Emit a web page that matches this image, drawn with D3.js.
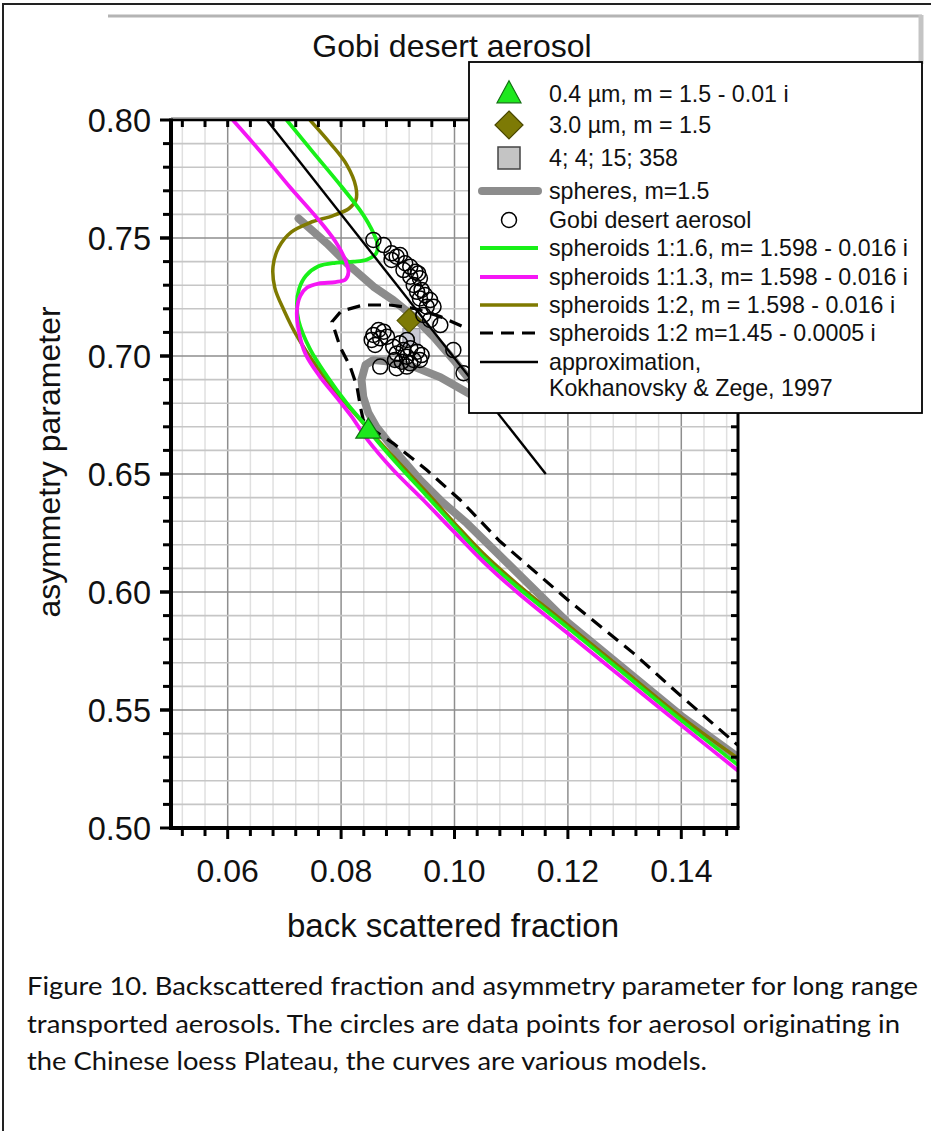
<!DOCTYPE html>
<html><head><meta charset="utf-8">
<script src="https://cdn.jsdelivr.net/npm/d3@7"></script>
<style>body{margin:0;background:#fff}svg{display:block}</style>
</head><body>
<svg id="c" width="931" height="1131"></svg>
<script>
// ---------------- data ----------------
const xTickValues = [0.06, 0.08, 0.10, 0.12, 0.14];
const yTickValues = [0.50, 0.55, 0.60, 0.65, 0.70, 0.75, 0.80];

// approximation, Kokhanovsky & Zege 1997
const approximation = [[0.0669, 0.800], [0.1161, 0.650]];

// spheres, m=1.5
const spheres = [[0.0725,0.7583],[0.0775,0.7477],[0.0810,0.7393],[0.0857,0.7294],[0.0892,0.7237],[0.0928,0.7167],[0.0963,0.7082],[0.0998,0.6985],[0.1025,0.6905],[0.1070,0.6800],[0.1030,0.6835],[0.0975,0.6910],[0.0928,0.6955],[0.0880,0.6978],[0.0857,0.6983],[0.0843,0.6962],[0.0836,0.6900],[0.0839,0.6828],[0.0848,0.6760],[0.0862,0.6700],[0.0904,0.6573],[0.0939,0.6475],[0.0980,0.6378],[0.1022,0.6291],[0.1200,0.5870],[0.1400,0.5475],[0.1500,0.5300]];

// spheroids 1:1.6, m = 1.598 - 0.016 i
const spheroid16 = [[0.0704,0.800],[0.0750,0.7865],[0.0801,0.7717],[0.0833,0.7619],[0.0852,0.7545],[0.0864,0.7475],[0.0862,0.7435],[0.0845,0.7408],[0.0822,0.7400],[0.0790,0.7395],[0.0760,0.7380],[0.0738,0.7340],[0.0726,0.7285],[0.0722,0.7220],[0.0725,0.7150],[0.0745,0.7030],[0.0775,0.6915],[0.0810,0.6800],[0.0839,0.6718],[0.0857,0.6660],[0.0900,0.6540],[0.0950,0.6410],[0.1000,0.6278],[0.1050,0.6150],[0.1110,0.6022],[0.1200,0.5848],[0.1287,0.5678],[0.1400,0.5456],[0.1500,0.5267]];

// spheroids 1:1.3, m = 1.598 - 0.016 i
const spheroid13 = [[0.0609,0.800],[0.0660,0.7860],[0.0710,0.7715],[0.0760,0.7578],[0.0790,0.7485],[0.0806,0.7415],[0.0813,0.7355],[0.0808,0.7325],[0.0790,0.7313],[0.0760,0.7307],[0.0740,0.7290],[0.0728,0.7255],[0.0722,0.7190],[0.0725,0.7110],[0.0737,0.7010],[0.0762,0.6915],[0.0792,0.6825],[0.0818,0.6745],[0.0845,0.6650],[0.0892,0.6517],[0.0945,0.6390],[0.0998,0.6258],[0.1050,0.6130],[0.1110,0.6000],[0.1198,0.5828],[0.1287,0.5655],[0.1400,0.5435],[0.1500,0.5243]];

// spheroids 1:2, m = 1.598 - 0.016 i
const spheroid2 = [[0.0745,0.800],[0.0781,0.7901],[0.0810,0.7810],[0.0826,0.7717],[0.0826,0.7660],[0.0814,0.7625],[0.0786,0.7595],[0.0745,0.7565],[0.0712,0.7525],[0.0690,0.7460],[0.0680,0.7380],[0.0683,0.7290],[0.0700,0.7190],[0.0722,0.7085],[0.0757,0.6955],[0.0798,0.6828],[0.0834,0.6729],[0.0857,0.6665],[0.0900,0.6553],[0.0950,0.6425],[0.1000,0.6292],[0.1050,0.6165],[0.1110,0.6035],[0.1200,0.5860],[0.1300,0.5665],[0.1400,0.5470],[0.1500,0.5295]];

// spheroids 1:2, m = 1.45 - 0.0005 i
const spheroid2b = [[0.1045,0.7085],[0.1022,0.7117],[0.0975,0.7167],[0.0928,0.7202],[0.0886,0.7216],[0.0839,0.7216],[0.0800,0.7190],[0.0784,0.7145],[0.0798,0.7040],[0.0816,0.6955],[0.0828,0.6870],[0.0834,0.6785],[0.0839,0.6729],[0.0857,0.6686],[0.0892,0.6630],[0.0951,0.6517],[0.1010,0.6390],[0.1080,0.6215],[0.1200,0.5966],[0.1316,0.5740],[0.1401,0.5556],[0.1500,0.5350]];

// Gobi desert aerosol (measured)
const gobi = [[0.0857,0.7492],[0.0875,0.7470],[0.0889,0.7435],[0.0898,0.7421],[0.0904,0.7428],[0.0889,0.7407],[0.0913,0.7393],[0.0922,0.7378],[0.0910,0.7364],[0.0931,0.7357],[0.0936,0.7350],[0.0922,0.7336],[0.0939,0.7329],[0.0928,0.7301],[0.0934,0.7272],[0.0942,0.7280],[0.0948,0.7258],[0.0939,0.7244],[0.0957,0.7237],[0.0951,0.7209],[0.0963,0.7209],[0.0945,0.7174],[0.0975,0.7131],[0.0957,0.7153],[0.0998,0.7025],[0.1016,0.6927],
[0.0857,0.7089],[0.0866,0.7110],[0.0875,0.7103],[0.0854,0.7068],[0.0869,0.7075],[0.0881,0.7082],[0.0860,0.7047],[0.0892,0.7039],[0.0904,0.7054],[0.0916,0.7068],[0.0910,0.7025],[0.0922,0.7033],[0.0934,0.7018],[0.0942,0.7004],[0.0898,0.7011],[0.0916,0.6997],[0.0928,0.6983],[0.0907,0.6976],[0.0895,0.6983],[0.0939,0.6983],[0.0869,0.6955],[0.0916,0.6955],[0.0898,0.6948],[0.0922,0.6969]];

const small04 = [0.0848, 0.6686];   // 0.4 um, m = 1.5 - 0.01 i
const large30 = [0.0920, 0.7150];   // 3.0 um, m = 1.5
const dist4 = [0.0924, 0.7080];     // 4; 4; 15; 358

const legendLabels = ["0.4 µm, m = 1.5 - 0.01 i", "3.0 µm, m = 1.5", "4; 4; 15; 358", "spheres, m=1.5", "Gobi desert aerosol", "spheroids 1:1.6, m= 1.598 - 0.016 i", "spheroids 1:1.3, m= 1.598 - 0.016 i", "spheroids 1:2, m = 1.598 - 0.016 i", "spheroids 1:2 m=1.45 - 0.0005 i", "approximation,", "Kokhanovsky & Zege, 1997"];

const captionLines = ["Figure 10. Backscattered fraction and asymmetry parameter for long range", "transported aerosols. The circles are data points for aerosol originating in", "the Chinese loess Plateau, the curves are various models."];

// ---------------- drawing ----------------
const svg = d3.select("#c");
const FONT = "'Liberation Sans', Arial, sans-serif";
svg.append("rect").attr("width", 931).attr("height", 1131).attr("fill", "#fff");

// page decorations (scan frame)
svg.append("line").attr("x1", 3).attr("x2", 3).attr("y1", 3).attr("y2", 1131).attr("stroke", "#222").attr("stroke-width", 2);
svg.append("line").attr("x1", 3).attr("x2", 931).attr("y1", 4).attr("y2", 4).attr("stroke", "#222").attr("stroke-width", 2);
svg.append("line").attr("x1", 108).attr("x2", 922).attr("y1", 16).attr("y2", 16).attr("stroke", "#b4b4b4").attr("stroke-width", 3);
svg.append("line").attr("x1", 921).attr("x2", 921).attr("y1", 15).attr("y2", 64).attr("stroke", "#c4c4c4").attr("stroke-width", 5);

const x = d3.scaleLinear().domain([0.05, 0.15]).range([171, 738]);
const y = d3.scaleLinear().domain([0.50, 0.80]).range([828, 120]);
const [X0, X1] = x.range(), [Y0, Y1] = [y(0.80), y(0.50)];

// grid
const xMinor = d3.range(-2, 23).map(k => +(0.06 + k * 0.004).toFixed(4));
const yMinor = d3.range(1, 30).map(k => +(0.50 + k * 0.01).toFixed(3));
const isMajX = d => xTickValues.some(t => Math.abs(t - d) < 1e-6);
const isMajY = d => yTickValues.some(t => Math.abs(t - d) < 1e-6);
const g = svg.append("g");
g.selectAll(".vx").data(xMinor).join("line")
  .attr("x1", d => x(d)).attr("x2", d => x(d)).attr("y1", Y0).attr("y2", Y1)
  .attr("stroke", d => isMajX(d) ? "#8e8e8e" : "#e0e0e0")
  .attr("stroke-width", 1.5);
g.selectAll(".hy").data(yMinor).join("line")
  .attr("x1", X0).attr("x2", X1).attr("y1", d => y(d)).attr("y2", d => y(d))
  .attr("stroke", d => isMajY(d) ? "#8e8e8e" : "#c6c6c6")
  .attr("stroke-width", 1.6);

// clip
svg.append("clipPath").attr("id", "plot").append("rect")
  .attr("x", X0).attr("y", Y0).attr("width", X1 - X0).attr("height", Y1 - Y0);
const plot = svg.append("g").attr("clip-path", "url(#plot)");

const lineLin = d3.line().x(d => x(d[0])).y(d => y(d[1]));
const lineSmooth = d3.line().x(d => x(d[0])).y(d => y(d[1])).curve(d3.curveCatmullRom.alpha(0.5));

plot.append("path").datum(spheres).attr("d", lineLin).attr("fill", "none")
  .attr("stroke", "#8c8c8c").attr("stroke-width", 8).attr("stroke-linejoin", "round").attr("stroke-linecap", "round");
plot.append("path").datum(spheroid2b).attr("d", lineLin).attr("fill", "none")
  .attr("stroke", "#000").attr("stroke-width", 3.2).attr("stroke-dasharray", "13,8");
plot.append("path").datum(spheroid2).attr("d", lineSmooth).attr("fill", "none")
  .attr("stroke", "#7f7a00").attr("stroke-width", 3.5);
plot.append("path").datum(spheroid16).attr("d", lineSmooth).attr("fill", "none")
  .attr("stroke", "#18f018").attr("stroke-width", 3.8);
plot.append("path").datum(spheroid13).attr("d", lineSmooth).attr("fill", "none")
  .attr("stroke", "#f516f5").attr("stroke-width", 3.8);
plot.append("path").datum(approximation).attr("d", lineLin).attr("fill", "none")
  .attr("stroke", "#000").attr("stroke-width", 2.4);

// markers
function sq(cx, cy, s) { return `M${cx - s},${cy - s}H${cx + s}V${cy + s}H${cx - s}Z`; }
function dia(cx, cy, s) { return `M${cx},${cy - s}L${cx + s},${cy}L${cx},${cy + s}L${cx - s},${cy}Z`; }
function tri(cx, cy, w, h) { return `M${cx},${cy - h * 0.6}L${cx + w / 2},${cy + h * 0.4}L${cx - w / 2},${cy + h * 0.4}Z`; }

plot.append("path").attr("d", sq(x(dist4[0]), y(dist4[1]), 8.5)).attr("fill", "#c8c8d4").attr("stroke", "#9a9aa4").attr("stroke-width", 1.2);
plot.append("path").attr("d", dia(x(large30[0]), y(large30[1]), 12)).attr("fill", "#7d7a05").attr("stroke", "#5a5800").attr("stroke-width", 1.2);
plot.selectAll(".gobi").data(gobi).join("circle")
  .attr("cx", d => x(d[0])).attr("cy", d => y(d[1])).attr("r", 7.5)
  .attr("fill", "none").attr("stroke", "#000").attr("stroke-width", 1.5);
plot.append("path").attr("d", tri(x(small04[0]), y(small04[1]), 25, 20)).attr("fill", "#1ee81e").attr("stroke", "#127012").attr("stroke-width", 1.2);

// axes frame
const ax = svg.append("g");
ax.append("line").attr("x1", X0).attr("x2", X1).attr("y1", Y0 - 2).attr("y2", Y0 - 2).attr("stroke", "#9a9a9a").attr("stroke-width", 1.5);
ax.append("line").attr("x1", X0).attr("x2", X1).attr("y1", Y0).attr("y2", Y0).attr("stroke", "#000").attr("stroke-width", 2.5);
ax.append("line").attr("x1", X1).attr("x2", X1).attr("y1", Y0).attr("y2", Y1).attr("stroke", "#000").attr("stroke-width", 3);
ax.append("line").attr("x1", X0 - 2).attr("x2", X1 + 1.5).attr("y1", Y1).attr("y2", Y1).attr("stroke", "#000").attr("stroke-width", 4);
ax.append("line").attr("x1", X0).attr("x2", X0).attr("y1", Y0 - 1.5).attr("y2", Y1 + 2).attr("stroke", "#000").attr("stroke-width", 4);

// bottom ticks (outward)
ax.selectAll(".bt").data(xMinor).join("line")
  .attr("x1", d => x(d)).attr("x2", d => x(d)).attr("y1", Y1).attr("y2", d => Y1 + (isMajX(d) ? 11 : 8))
  .attr("stroke", "#000").attr("stroke-width", 3);
// top ticks (inward)
ax.selectAll(".tt").data(xMinor).join("line")
  .attr("x1", d => x(d)).attr("x2", d => x(d)).attr("y1", Y0).attr("y2", Y0 + 7)
  .attr("stroke", "#000").attr("stroke-width", 3);
// left ticks (outward)
ax.selectAll(".lt").data(yMinor.concat(yTickValues)).join("line")
  .attr("x1", X0).attr("x2", d => X0 - (isMajY(d) ? 11 : 8)).attr("y1", d => y(d)).attr("y2", d => y(d))
  .attr("stroke", "#000").attr("stroke-width", 3);
// right ticks (inward)
ax.selectAll(".rt").data(yMinor).join("line")
  .attr("x1", X1).attr("x2", X1 - 7).attr("y1", d => y(d)).attr("y2", d => y(d))
  .attr("stroke", "#000").attr("stroke-width", 3);

// tick labels
ax.selectAll(".xl").data(xTickValues).join("text")
  .attr("x", d => x(d)).attr("y", 882).attr("text-anchor", "middle")
  .attr("font-family", FONT).attr("font-size", 32).attr("fill", "#111")
  .text(d => d3.format(".2f")(d));
ax.selectAll(".yl").data(yTickValues).join("text")
  .attr("x", 151).attr("y", d => y(d) + 11.5).attr("text-anchor", "end")
  .attr("font-family", FONT).attr("font-size", 32.5).attr("fill", "#111")
  .text(d => d3.format(".2f")(d));

// titles
svg.append("text").attr("x", 452).attr("y", 57).attr("text-anchor", "middle")
  .attr("font-family", FONT).attr("font-size", 32).attr("fill", "#111").text("Gobi desert aerosol");
svg.append("text").attr("x", 453).attr("y", 937).attr("text-anchor", "middle")
  .attr("font-family", FONT).attr("font-size", 33).attr("fill", "#111").text("back scattered fraction");
svg.append("text").attr("transform", "translate(60,462) rotate(-90)").attr("text-anchor", "middle")
  .attr("font-family", FONT).attr("font-size", 32).attr("fill", "#111").text("asymmetry parameter");

// legend
const L = svg.append("g");
L.append("rect").attr("x", 469).attr("y", 62).attr("width", 453).attr("height", 351)
  .attr("fill", "#fff").attr("stroke", "#000").attr("stroke-width", 1.8);
const rowY = [94, 125, 158, 191, 220, 248, 277, 305, 333, 362, 388];
const sx = 509, lx1 = 480, lx2 = 538;
L.append("path").attr("d", tri(sx, rowY[0], 24, 22)).attr("fill", "#1ee81e").attr("stroke", "#127012").attr("stroke-width", 1.2);
L.append("path").attr("d", dia(sx, rowY[1], 14)).attr("fill", "#7d7a05").attr("stroke", "#4a4800").attr("stroke-width", 1.2);
L.append("path").attr("d", sq(sx, rowY[2], 11)).attr("fill", "#c4c4c4").attr("stroke", "#444").attr("stroke-width", 1.5);
L.append("line").attr("x1", lx1 + 2).attr("x2", lx2).attr("y1", rowY[3]).attr("y2", rowY[3]).attr("stroke", "#8c8c8c").attr("stroke-width", 8).attr("stroke-linecap", "round");
L.append("circle").attr("cx", sx).attr("cy", rowY[4]).attr("r", 7.5).attr("fill", "none").attr("stroke", "#000").attr("stroke-width", 1.5);
L.append("line").attr("x1", lx1).attr("x2", lx2).attr("y1", rowY[5]).attr("y2", rowY[5]).attr("stroke", "#18f018").attr("stroke-width", 3.8);
L.append("line").attr("x1", lx1).attr("x2", lx2).attr("y1", rowY[6]).attr("y2", rowY[6]).attr("stroke", "#f516f5").attr("stroke-width", 3.8);
L.append("line").attr("x1", lx1).attr("x2", lx2).attr("y1", rowY[7]).attr("y2", rowY[7]).attr("stroke", "#7f7a00").attr("stroke-width", 3.5);
L.append("line").attr("x1", lx1).attr("x2", lx2 - 2).attr("y1", rowY[8]).attr("y2", rowY[8]).attr("stroke", "#000").attr("stroke-width", 3.2).attr("stroke-dasharray", "13,8");
L.append("line").attr("x1", lx1).attr("x2", lx2).attr("y1", rowY[9]).attr("y2", rowY[9]).attr("stroke", "#000").attr("stroke-width", 2.4);
L.selectAll(".lt").data(legendLabels).join("text")
  .attr("x", 549).attr("y", (d, i) => rowY[i] + 8.3)
  .attr("font-family", FONT).attr("font-size", 23.2).attr("fill", "#111").text(d => d);

// caption
const capY = [995, 1033, 1070];
const capW = [891, 873, 680];
svg.selectAll(".cap").data(captionLines).join("text")
  .attr("x", 27).attr("y", (d, i) => capY[i])
  .attr("font-family", "Lato, 'Open Sans', sans-serif").attr("font-size", 25).attr("fill", "#111")
  .attr("textLength", (d, i) => capW[i]).attr("lengthAdjust", "spacingAndGlyphs")
  .text(d => d);
</script>
</body></html>
